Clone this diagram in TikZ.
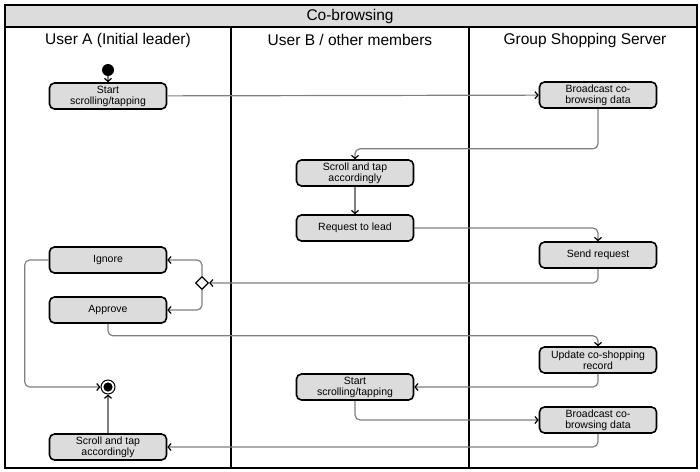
\documentclass[tikz,border=0pt]{standalone}
\usepackage{fontspec}
\setmainfont{Liberation Sans}
\usetikzlibrary{arrows.meta,shapes.geometric}
\definecolor{lanegray}{HTML}{DCDCDC}
\definecolor{wire}{HTML}{7F7F7F}

\begin{document}
\begin{tikzpicture}[
 x=1pt,y=-1pt,
 act/.style={draw=black,line width=1.6pt,rounded corners=5pt,fill=lanegray,minimum width=117pt,minimum height=26pt,inner sep=1pt,align=center,font=\fontsize{10.5}{11}\selectfont},
 lanehead/.style={font=\fontsize{15.5}{18}\selectfont},
 frame/.style={line width=1.5pt,draw=black},
 arr/.style={-{Straight Barb[length=3pt,width=7pt,color=black]},line width=1.2pt,draw=wire,rounded corners=5pt},
 decide/.style={diamond,draw=black,line width=1.3pt,fill=white,minimum size=13pt,inner sep=0pt},
 initial/.style={circle,fill=black,minimum size=12pt,inner sep=0pt},
 final/.style={circle,draw=black,line width=1pt,minimum size=14pt,inner sep=0pt,path picture={\fill[black] (path picture bounding box.center) circle (4.6pt);}}
]
\useasboundingbox (0,0) rectangle (700,471);
% swimlanes
\fill[lanegray] (5,5) rectangle (697,27);
\draw[frame] (5,5) rectangle (697,468);
\draw[frame] (5,27) -- (697,27);
\draw[frame] (231,27) -- (231,468);
\draw[frame] (469,27) -- (469,468);
\node[lanehead] (title) at (350,16) {Co-browsing};
\node[lanehead] (laneA) at (118,40) {User A (Initial leader)};
\node[lanehead] (laneB) at (350,40) {User B / other members};
\node[lanehead] (laneS) at (585,40) {Group Shopping Server};
% activities
\node[initial] (start) at (108,70) {};
\node[act] (startA) at (108,96) {Start\\scrolling/tapping};
\node[act] (bcast1) at (598,95) {Broadcast co-\\browsing data};
\node[act] (scrollB) at (355,173) {Scroll and tap\\accordingly};
\node[act] (reqB) at (355,228) {Request to lead};
\node[act] (sendR) at (598,255) {Send request};
\node[decide] (dec) at (202,283) {};
\node[act] (ignore) at (108,260) {Ignore};
\node[act] (approve) at (108,310) {Approve};
\node[act] (update) at (598,360) {Update co-shopping\\record};
\node[act] (startB) at (355,387) {Start\\scrolling/tapping};
\node[act] (bcast2) at (598,420) {Broadcast co-\\browsing data};
\node[final] (stop) at (108,387) {};
\node[act] (scrollA) at (108,447) {Scroll and tap\\accordingly};
% flows
\draw[arr] (start)--(startA);
\draw[arr] (startA)--(bcast1);
\draw[arr] (bcast1.south)--++(0,40)-|(scrollB.north);
\draw[arr] (scrollB)--(reqB);
\draw[arr] (reqB.east)-|(sendR.north);
\draw[arr] (sendR.south)|-(dec.east);
\draw[arr] (dec.north)|-(ignore.east);
\draw[arr] (dec.south)|-(approve.east);
\draw[arr] (ignore.west)--++(-24,0)|-(stop.west);
\draw[arr] (approve.south)--++(0,12)-|(update.north);
\draw[arr] (update.south)|-(startB.east);
\draw[arr] (startB.south)|-(bcast2.west);
\draw[arr] (bcast2.south)|-(scrollA.east);
\draw[arr] (scrollA)--(stop);
\end{tikzpicture}
\end{document}
